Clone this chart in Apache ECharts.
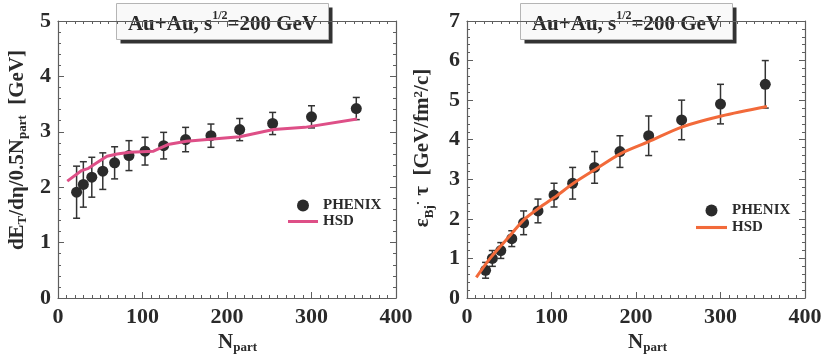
<!DOCTYPE html>
<html>
<head>
    <meta charset="utf-8">
    <title>ECharts</title>
    <script src="https://cdn.jsdelivr.net/npm/echarts@6/dist/echarts.min.js"></script>
</head>
<body style="margin:0;background:#fff;">
    <div id="main" style="width:830px;height:364px;"></div>
</body>
</html>
<script>
// N_part of the PHENIX centrality bins
var nPart = [22, 30, 40, 53, 67, 84, 103, 125, 151, 181, 215, 254, 300, 353];

// left panel: dE_T/deta/(0.5 N_part)
var etData = [1.91, 2.05, 2.18, 2.29, 2.44, 2.57, 2.65, 2.75, 2.86, 2.93, 3.04, 3.15, 3.27, 3.42];
var etErr  = [0.47, 0.41, 0.36, 0.33, 0.29, 0.27, 0.25, 0.24, 0.22, 0.21, 0.20, 0.20, 0.20, 0.20];
var hsdEtX = [11, 28, 36, 50, 58, 70, 85, 113, 130, 152, 215, 255, 292, 354];
var hsdEtY = [2.11, 2.30, 2.34, 2.48, 2.56, 2.60, 2.63, 2.65, 2.77, 2.83, 2.91, 3.04, 3.08, 3.23];

// right panel: eps_Bj * tau
var epsData = [0.7, 1.0, 1.2, 1.5, 1.9, 2.2, 2.6, 2.9, 3.3, 3.7, 4.1, 4.5, 4.9, 5.4];
var epsErr  = [0.2, 0.2, 0.2, 0.2, 0.3, 0.3, 0.3, 0.4, 0.4, 0.4, 0.5, 0.5, 0.5, 0.6];
var hsdEpsX = [11, 28, 51, 67, 87, 106, 126, 154, 183, 215, 254, 301, 355];
var hsdEpsY = [0.52, 1.02, 1.58, 1.97, 2.30, 2.58, 2.90, 3.28, 3.66, 3.95, 4.32, 4.60, 4.84];

var xTicks = [0, 100, 200, 300, 400];

var FONT = 'Liberation Serif';
var INK = '#2a2a2a';
var FRAME = '#5e5e5e';
var DOT = '#2b2b2b';
var PINK = '#de4f87';
var ORANGE = '#f26a3a';

function pairs(xs, ys) {
    var out = [];
    for (var i = 0; i < xs.length; i++) out.push([xs[i], ys[i]]);
    return out;
}
function errRows(xs, ys, es) {
    var out = [];
    for (var i = 0; i < xs.length; i++) out.push([xs[i], ys[i] - es[i], ys[i] + es[i]]);
    return out;
}

function renderErr(params, api) {
    var lo = api.coord([api.value(0), api.value(1)]);
    var hi = api.coord([api.value(0), api.value(2)]);
    var w = 3.5;
    var st = { stroke: '#333', lineWidth: 1.5 };
    return {
        type: 'group',
        children: [
            { type: 'line', shape: { x1: lo[0], y1: lo[1], x2: hi[0], y2: hi[1] }, style: st },
            { type: 'line', shape: { x1: lo[0] - w, y1: lo[1], x2: lo[0] + w, y2: lo[1] }, style: st },
            { type: 'line', shape: { x1: hi[0] - w, y1: hi[1], x2: hi[0] + w, y2: hi[1] }, style: st }
        ]
    };
}

function xAx(grid, pos) {
    var bottom = pos === 'bottom';
    return {
        type: 'value', gridIndex: grid, position: pos, min: 0, max: 400, interval: 100,
        axisLine: { show: true, onZero: false, lineStyle: { color: FRAME, width: 1.2 } },
        axisTick: { show: true, inside: true, length: 6, lineStyle: { color: FRAME } },
        minorTick: { show: true, splitNumber: 10, length: 3, lineStyle: { color: FRAME } },
        axisLabel: {
            show: bottom, margin: 8, color: INK, fontFamily: FONT, fontWeight: 'bold', fontSize: 22,
            formatter: function (v) { return xTicks.indexOf(v) >= 0 ? String(v) : ''; }
        },
        splitLine: { show: false }
    };
}
function yAx(grid, pos, max) {
    var left = pos === 'left';
    return {
        type: 'value', gridIndex: grid, position: pos, min: 0, max: max, interval: 1,
        axisLine: { show: true, onZero: false, lineStyle: { color: FRAME, width: 1.2 } },
        axisTick: { show: true, inside: true, length: 6, lineStyle: { color: FRAME } },
        minorTick: { show: true, splitNumber: 5, length: 3, lineStyle: { color: FRAME } },
        axisLabel: { show: left, margin: 7, color: INK, fontFamily: FONT, fontWeight: 'bold', fontSize: 22 },
        splitLine: { show: false }
    };
}

var titleRich = {
    t: { fill: INK, fontFamily: FONT, fontWeight: 'bold', fontSize: 21, lineHeight: 26, verticalAlign: 'bottom' },
    sup: { fill: INK, fontFamily: FONT, fontWeight: 'bold', fontSize: 12, lineHeight: 18, verticalAlign: 'top' }
};
var labRich = {
    m: { fill: INK, fontFamily: FONT, fontWeight: 'bold', fontSize: 21, lineHeight: 24, verticalAlign: 'top' },
    s: { fill: INK, fontFamily: FONT, fontWeight: 'bold', fontSize: 13, lineHeight: 13, verticalAlign: 'bottom' },
    p: { fill: INK, fontFamily: FONT, fontWeight: 'bold', fontSize: 13, lineHeight: 13, verticalAlign: 'top' }
};
var labRichSub = {
    m: { fill: INK, fontFamily: FONT, fontWeight: 'bold', fontSize: 21, lineHeight: 22, verticalAlign: 'top' },
    s: { fill: INK, fontFamily: FONT, fontWeight: 'bold', fontSize: 13, lineHeight: 13, verticalAlign: 'bottom' },
    p: { fill: INK, fontFamily: FONT, fontWeight: 'bold', fontSize: 12, lineHeight: 12, verticalAlign: 'top' }
};

function titleBox(x) {
    return {
        type: 'group', left: x, top: 3, z: 100,
        children: [
            { type: 'rect', shape: { x: 4, y: 4, width: 212, height: 36 }, style: { fill: '#333' } },
            { type: 'rect', shape: { x: 0, y: 0, width: 212, height: 36 }, style: { fill: '#f9f9f9', stroke: '#b5b5b5', lineWidth: 1 } },
            {
                type: 'text', x: 106, y: 19,
                style: {
                    text: '{t|Au+Au, s}{sup|1/2}{t|=200 GeV}', rich: titleRich,
                    align: 'center', verticalAlign: 'middle', textAlign: 'center', textVerticalAlign: 'middle'
                }
            }
        ]
    };
}

function axTitle(txt, x, y, rot, rich, align) {
    return {
        type: 'text', x: x, y: y, rotation: rot, z: 50,
        style: {
            text: txt, rich: rich,
            align: align, verticalAlign: 'middle', textAlign: align, textVerticalAlign: 'middle'
        }
    };
}

var legendText = { fontFamily: FONT, fontWeight: 'bold', fontSize: 15, color: INK };
var LINE_ICON = 'path://M0,0H30V3H0Z';

var myChart = echarts.init(document.getElementById('main'));

var option = {
    backgroundColor: '#fff',
    animation: false,
    grid: [
        { left: 58, top: 21, width: 338, height: 277 },
        { left: 467, top: 21, width: 338, height: 277 }
    ],
    xAxis: [xAx(0, 'bottom'), xAx(0, 'top'), xAx(1, 'bottom'), xAx(1, 'top')],
    yAxis: [yAx(0, 'left', 5), yAx(0, 'right', 5), yAx(1, 'left', 7), yAx(1, 'right', 7)],
    legend: [
        {
            left: 283, top: 193, orient: 'vertical', itemWidth: 30, itemHeight: 12, itemGap: 1,
            selectedMode: false, textStyle: legendText,
            data: [
                { name: 'PHENIX', icon: 'circle', itemStyle: { color: DOT } },
                { name: 'HSD', icon: LINE_ICON, itemStyle: { color: PINK } }
            ]
        },
        {
            left: 691, top: 198, orient: 'vertical', itemWidth: 31, itemHeight: 12, itemGap: 2,
            selectedMode: false, textStyle: legendText,
            formatter: function (n) { return n.trim(); },
            data: [
                { name: 'PHENIX ', icon: 'circle', itemStyle: { color: DOT } },
                { name: 'HSD ', icon: LINE_ICON, itemStyle: { color: ORANGE } }
            ]
        }
    ],
    graphic: [
        titleBox(116),
        titleBox(520),
        axTitle('{m|dE}{s|T}{m|/dη/0.5N}{s|part}{m|  [GeV]}', 18, 150, Math.PI / 2, labRichSub, 'center'),
        axTitle('{m|ε}{s|Bj}{p|·}{m| τ  [GeV/fm}{p|2}{m|/c]}', 424, 148, Math.PI / 2, labRich, 'center'),
        axTitle('{m|N}{s|part}', 218, 343, 0, labRichSub, 'left'),
        axTitle('{m|N}{s|part}', 628, 343, 0, labRichSub, 'left')
    ],
    series: [
        {
            name: 'PHENIX errors', type: 'custom', xAxisIndex: 0, yAxisIndex: 0,
            renderItem: renderErr, data: errRows(nPart, etData, etErr), z: 2
        },
        {
            name: 'PHENIX', type: 'scatter', xAxisIndex: 0, yAxisIndex: 0,
            symbolSize: 11, itemStyle: { color: DOT, opacity: 1 }, data: pairs(nPart, etData), z: 3
        },
        {
            name: 'HSD', type: 'line', xAxisIndex: 0, yAxisIndex: 0, symbol: 'none',
            lineStyle: { color: PINK, width: 3 }, itemStyle: { color: PINK },
            data: pairs(hsdEtX, hsdEtY), z: 4
        },
        {
            name: 'PHENIX errors ', type: 'custom', xAxisIndex: 2, yAxisIndex: 2,
            renderItem: renderErr, data: errRows(nPart, epsData, epsErr), z: 2
        },
        {
            name: 'PHENIX ', type: 'scatter', xAxisIndex: 2, yAxisIndex: 2,
            symbolSize: 11, itemStyle: { color: DOT, opacity: 1 }, data: pairs(nPart, epsData), z: 3
        },
        {
            name: 'HSD ', type: 'line', xAxisIndex: 2, yAxisIndex: 2, symbol: 'none', smooth: 0.3,
            lineStyle: { color: ORANGE, width: 3 }, itemStyle: { color: ORANGE },
            data: pairs(hsdEpsX, hsdEpsY), z: 4
        }
    ]
};

myChart.setOption(option);
</script>
